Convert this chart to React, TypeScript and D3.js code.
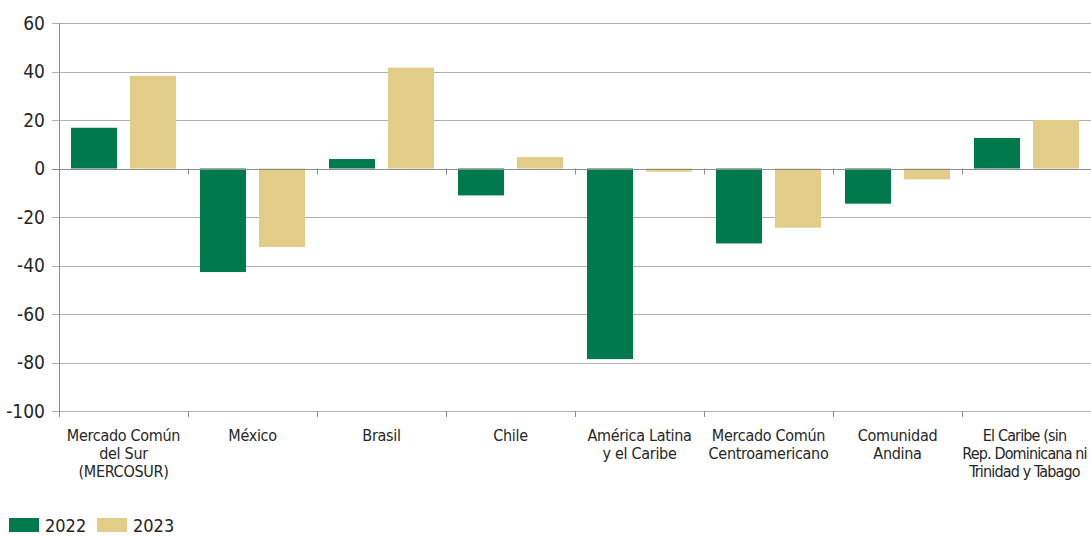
import React from "react";
import * as d3 from "d3";

const categories: string[][] = [
  ["Mercado Común", "del Sur", "(MERCOSUR)"],
  ["México"],
  ["Brasil"],
  ["Chile"],
  ["América Latina", "y el Caribe"],
  ["Mercado Común", "Centroamericano"],
  ["Comunidad", "Andina"],
  ["El Caribe (sin", "Rep. Dominicana ni", "Trinidad y Tabago"],
];
const values2022 = [16.8, -42.7, 3.9, -11.1, -78.6, -30.9, -14.5, 12.6];
const values2023 = [38.2, -32.4, 41.6, 4.7, -1.3, -24.4, -4.5, 20];
const yTicks = [60, 40, 20, 0, -20, -40, -60, -80, -100];
const seriesNames = ["2022", "2023"];
const colors = ["#007A4D", "#E1CD88"];

const W = 1091;
const H = 536;
const FONT = "'DejaVu Sans Condensed', 'Liberation Sans Narrow', sans-serif";

export default function App() {
  const left = 59;
  const right = 1091;
  const y = d3.scaleLinear().domain([-100, 60]).range([411, 23]);
  const keys = categories.map((_, i) => String(i));
  const x0 = d3.scaleBand().domain(keys).range([left, right]).paddingInner(0).paddingOuter(0);
  const x1 = d3
    .scaleBand()
    .domain(seriesNames)
    .range([12, x0.bandwidth() - 12])
    .paddingInner(0.22);
  const series = [values2022, values2023];

  return (
    <svg
      width={W}
      height={H}
      style={{ position: "absolute", left: 0, top: 0, background: "#fff" }}
      fontFamily={FONT}
    >
      {yTicks.map((t) => (
        <line
          key={"g" + t}
          x1={left - 7}
          x2={right}
          y1={Math.round(y(t)) + 0.5}
          y2={Math.round(y(t)) + 0.5}
          stroke={t === 0 ? "#8c8c8c" : "#b0b0b0"}
          strokeWidth={1}
        />
      ))}
      {yTicks.map((t) => (
        <text
          key={"yl" + t}
          x={45}
          y={y(t)}
          dy="0.36em"
          textAnchor="end"
          fontSize={19}
          fill="#262626"
        >
          {t}
        </text>
      ))}
      {series.map((vals, si) =>
        vals.map((v, i) => {
          const bx = (x0(keys[i]) as number) + (x1(seriesNames[si]) as number);
          const y0 = y(0);
          const yv = y(v);
          return (
            <rect
              key={si + "-" + i}
              x={bx}
              y={Math.min(y0, yv)}
              width={x1.bandwidth()}
              height={Math.abs(yv - y0)}
              fill={colors[si]}
            />
          );
        })
      )}
      <line
        x1={left}
        x2={right}
        y1={Math.round(y(0)) + 0.5}
        y2={Math.round(y(0)) + 0.5}
        stroke="#8c8c8c"
      />
      <line x1={left + 0.5} x2={left + 0.5} y1={y(60)} y2={y(-100) + 6} stroke="#8c8c8c" />
      {keys.map((k) => (
        <g key={"t" + k}>
          <line
            x1={Math.round(x0(k) as number) + 0.5}
            x2={Math.round(x0(k) as number) + 0.5}
            y1={y(0)}
            y2={y(0) + 6}
            stroke="#8c8c8c"
          />
          <line
            x1={Math.round(x0(k) as number) + 0.5}
            x2={Math.round(x0(k) as number) + 0.5}
            y1={y(-100)}
            y2={y(-100) + 6}
            stroke="#8c8c8c"
          />
        </g>
      ))}
      {categories.map((lines, i) => {
        const cx = (x0(keys[i]) as number) + x0.bandwidth() / 2;
        const last = i === categories.length - 1;
        return (
          <text
            key={"c" + i}
            x={cx}
            y={441}
            textAnchor="middle"
            fontSize={16}
            letterSpacing={last ? -0.85 : -0.3}
            fill="#262626"
          >
            {lines.map((l, j) => (
              <tspan key={j} x={last ? cx - 2 : cx} dy={j === 0 ? 0 : 18}>
                {l}
              </tspan>
            ))}
          </text>
        );
      })}
      {seriesNames.map((s, i) => (
        <g key={"lg" + s} transform={`translate(${9 + i * 88},518)`}>
          <rect x={0} y={0} width={30} height={14} fill={colors[i]} />
          <text x={36} y={14} fontSize={18} fill="#262626">
            {s}
          </text>
        </g>
      ))}
    </svg>
  );
}
